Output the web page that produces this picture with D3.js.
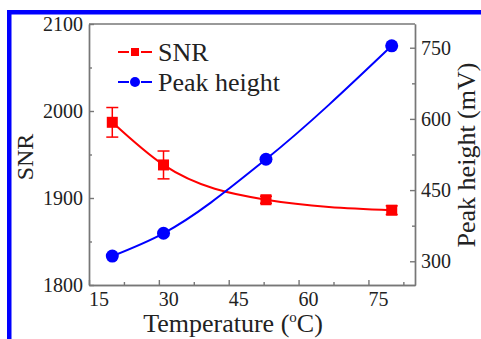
<!DOCTYPE html>
<html>
<head>
<meta charset="utf-8">
<script src="https://cdn.jsdelivr.net/npm/d3@7"></script>
<style>
  body { margin: 0; background: #fff; }
  svg { display: block; font-family: "Liberation Serif", "Times New Roman", serif; }
  .axis path, .axis line { stroke: #777; stroke-width: 1.4; }
</style>
</head>
<body>
<div id="chart"></div>
<script>
// data
const temps = [20, 31, 53, 80];
const snrValues = [1987, 1938, 1898, 1886];
const snrErrors = [17, 16, 4, 5];
const peakValues = [311, 359, 515, 754];

const xTicks = [15, 30, 45, 60, 75];
const xMinor = [22.5, 37.5, 52.5, 67.5, 82.5];
const snrTicks = [1800, 1900, 2000, 2100];
const snrMinor = [1850, 1950, 2050];
const peakTicks = [300, 450, 600, 750];
const peakMinor = [375, 525, 675];

const legendNames = ['SNR', 'Peak height'];

const width = 481, height = 339;
const margin = {top: 24, right: 66, bottom: 54, left: 89};
const innerW = width - margin.left - margin.right;
const innerH = height - margin.top - margin.bottom;

const svg = d3.select('#chart').append('svg')
    .attr('width', width)
    .attr('height', height);

// blue frame from the page
svg.append('rect').attr('x', 7).attr('y', 10).attr('width', width - 7).attr('height', 4.5).attr('fill', '#0000ff');
svg.append('rect').attr('x', 7).attr('y', 10).attr('width', 4.5).attr('height', height - 10).attr('fill', '#0000ff');

const g = svg.append('g').attr('transform', `translate(${margin.left},${margin.top})`);

const x = d3.scaleLinear().domain([15, 85]).range([0, innerW]);
const ySnr = d3.scaleLinear().domain([1800, 2100]).range([innerH, 0]);
const yPeak = d3.scaleLinear().domain([250, 800]).range([innerH, 0]);

const fmt = d3.format('d');

const styleAxis = function(sel) {
    sel.attr('font-family', null).attr('font-size', null);
    sel.selectAll('text')
        .style('font-family', '"Liberation Serif", "Times New Roman", serif')
        .style('font-size', '20px')
        .attr('fill', '#222');
};

// minor ticks
g.append('g').attr('class', 'axis').attr('transform', `translate(0,${innerH})`)
    .call(d3.axisBottom(x).tickValues(xMinor).tickSize(-3).tickSizeOuter(0).tickFormat(''));
g.append('g').attr('class', 'axis')
    .call(d3.axisLeft(ySnr).tickValues(snrMinor).tickSize(-3).tickSizeOuter(0).tickFormat(''));
g.append('g').attr('class', 'axis').attr('transform', `translate(${innerW},0)`)
    .call(d3.axisRight(yPeak).tickValues(peakMinor).tickSize(-3).tickSizeOuter(0).tickFormat(''));

// major axes
const xAxisG = g.append('g').attr('class', 'axis').attr('transform', `translate(0,${innerH})`)
    .call(d3.axisBottom(x).tickValues(xTicks).tickFormat(fmt).tickSize(-5).tickSizeOuter(0).tickPadding(7))
    .call(styleAxis);
xAxisG.selectAll('text').attr('x', 9.5);

g.append('g').attr('class', 'axis')
    .call(d3.axisLeft(ySnr).tickValues(snrTicks).tickFormat(fmt).tickSize(-5).tickSizeOuter(0).tickPadding(6))
    .call(styleAxis);

g.append('g').attr('class', 'axis').attr('transform', `translate(${innerW},0)`)
    .call(d3.axisRight(yPeak).tickValues(peakTicks).tickFormat(fmt).tickSize(-5).tickSizeOuter(0).tickPadding(6))
    .call(styleAxis);

// top frame line
g.append('line').attr('x1', 0).attr('x2', innerW).attr('y1', 0).attr('y2', 0)
    .attr('stroke', '#777').attr('stroke-width', 1.4);

// curves
const snrLine = d3.line()
    .x((d, i) => x(temps[i]))
    .y(d => ySnr(d))
    .curve(d3.curveMonotoneX);
const peakLine = d3.line()
    .x((d, i) => x(temps[i]))
    .y(d => yPeak(d))
    .curve(d3.curveMonotoneX);

g.append('path').datum(snrValues).attr('d', snrLine)
    .attr('fill', 'none').attr('stroke', '#ff0000').attr('stroke-width', 2);
g.append('path').datum(peakValues).attr('d', peakLine)
    .attr('fill', 'none').attr('stroke', '#0000ff').attr('stroke-width', 2);

// error bars
const errG = g.append('g').attr('stroke', '#ff0000').attr('stroke-width', 1.5);
snrValues.forEach(function(v, i) {
    const cx = x(temps[i]);
    const y1 = ySnr(v + snrErrors[i]);
    const y2 = ySnr(v - snrErrors[i]);
    errG.append('line').attr('x1', cx).attr('x2', cx).attr('y1', y1).attr('y2', y2);
    errG.append('line').attr('x1', cx - 6).attr('x2', cx + 6).attr('y1', y1).attr('y2', y1);
    errG.append('line').attr('x1', cx - 6).attr('x2', cx + 6).attr('y1', y2).attr('y2', y2);
});

// markers
g.selectAll('.sq').data(snrValues).enter().append('rect')
    .attr('class', 'sq')
    .attr('x', (d, i) => x(temps[i]) - 5.5)
    .attr('y', d => ySnr(d) - 5.5)
    .attr('width', 11).attr('height', 11)
    .attr('fill', '#ff0000');

g.selectAll('.dot').data(peakValues).enter().append('circle')
    .attr('class', 'dot')
    .attr('cx', (d, i) => x(temps[i]))
    .attr('cy', d => yPeak(d))
    .attr('r', 6.5)
    .attr('fill', '#0000ff');

// legend
const legend = svg.append('g');
const legendColors = ['#ff0000', '#0000ff'];
legendNames.forEach(function(name, i) {
    const ly = 52 + i * 30;
    const col = legendColors[i];
    legend.append('line').attr('x1', 118).attr('x2', 129).attr('y1', ly).attr('y2', ly)
        .attr('stroke', col).attr('stroke-width', 2);
    legend.append('line').attr('x1', 141).attr('x2', 152).attr('y1', ly).attr('y2', ly)
        .attr('stroke', col).attr('stroke-width', 2);
    if (i === 0) {
        legend.append('rect').attr('x', 131).attr('y', ly - 4).attr('width', 8).attr('height', 8).attr('fill', col);
    } else {
        legend.append('circle').attr('cx', 135).attr('cy', ly).attr('r', 5).attr('fill', col);
    }
    legend.append('text').attr('x', 158).attr('y', ly + 8.5)
        .attr('font-size', 26).attr('fill', '#222').text(name);
});

// axis titles
svg.append('text')
    .attr('transform', `translate(33,157) rotate(-90)`)
    .attr('text-anchor', 'middle').attr('font-size', 24).attr('fill', '#222')
    .text('SNR');

svg.append('text')
    .attr('transform', `translate(475,155) rotate(-90)`)
    .attr('text-anchor', 'middle').attr('font-size', 26).attr('fill', '#222')
    .text('Peak height (mV)');

const xt = svg.append('text')
    .attr('x', 233).attr('y', 332)
    .attr('text-anchor', 'middle').attr('font-size', 26).attr('fill', '#222');
xt.append('tspan').text('Temperature (');
xt.append('tspan').attr('font-size', 15).attr('dy', -10).text('o');
xt.append('tspan').attr('dy', 10).text('C)');
</script>
</body>
</html>
